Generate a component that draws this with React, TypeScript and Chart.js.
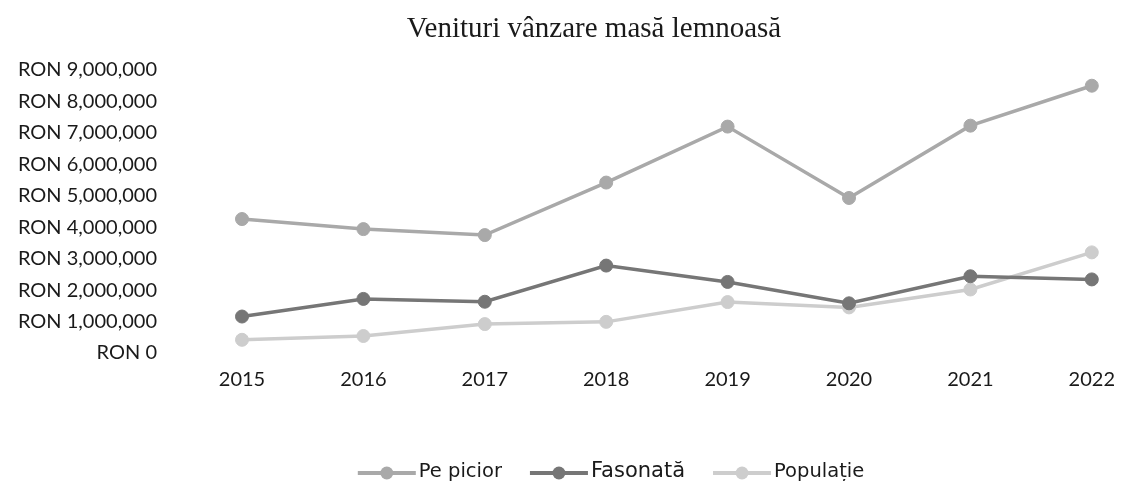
import { useEffect, useRef } from "react";
import { Chart, registerables } from "chart.js";

Chart.register(...registerables);

const years = ["2015", "2016", "2017", "2018", "2019", "2020", "2021", "2022"];
const pePicior = [4260000, 3940000, 3750000, 5420000, 7200000, 4930000, 7230000, 8500000];
const fasonata = [1160000, 1720000, 1630000, 2780000, 2260000, 1580000, 2440000, 2340000];
const populatie = [420000, 540000, 920000, 990000, 1620000, 1450000, 2020000, 3200000];
const seriesNames = ["Pe picior", "Fasonată", "Populație"];
const seriesColors = ["#a9a9a9", "#767676", "#cdcdcd"];
const legendFontSizes = [19.5, 21, 19.5];
const chartTitle = "Venituri vânzare masă lemnoasă";
const yMin = 0;
const yMax = 9000000;
const yStep = 1000000;

const titlePlugin = {
  id: "customTitle",
  afterDraw(chart: any) {
    const ctx = chart.ctx;
    ctx.save();
    ctx.font = '29px "Liberation Serif", "Times New Roman", serif';
    ctx.fillStyle = "#1a1a1a";
    ctx.textAlign = "center";
    ctx.textBaseline = "alphabetic";
    ctx.fillText(chartTitle, 594, 37);
    ctx.restore();
  },
};

const legendPlugin = {
  id: "customLegend",
  afterDraw(chart: any) {
    const ctx = chart.ctx;
    const iconW = 58;
    const gapIconText = 3;
    const gapItems = 28;
    const centerX = 611;
    const y = 472;
    ctx.save();
    const widths = chart.data.datasets.map((ds: any, i: number) => {
      ctx.font = `${legendFontSizes[i]}px "DejaVu Sans", sans-serif`;
      return iconW + gapIconText + ctx.measureText(ds.label).width;
    });
    const total = widths.reduce((a: number, b: number) => a + b, 0) + gapItems * (widths.length - 1);
    let x = centerX - total / 2;
    chart.data.datasets.forEach((ds: any, i: number) => {
      ctx.strokeStyle = ds.borderColor;
      ctx.lineWidth = 4;
      ctx.beginPath();
      ctx.moveTo(x, y + 1);
      ctx.lineTo(x + iconW, y + 1);
      ctx.stroke();
      ctx.fillStyle = ds.backgroundColor;
      ctx.beginPath();
      ctx.arc(x + iconW / 2, y + 1, 6.5, 0, Math.PI * 2);
      ctx.fill();
      ctx.font = `${legendFontSizes[i]}px "DejaVu Sans", sans-serif`;
      ctx.fillStyle = "#1a1a1a";
      ctx.textAlign = "left";
      ctx.textBaseline = "middle";
      ctx.fillText(ds.label, x + iconW + gapIconText, y);
      x += widths[i] + gapItems;
    });
    ctx.restore();
  },
};

export default function App() {
  const canvasRef = useRef<HTMLCanvasElement | null>(null);

  useEffect(() => {
    const canvas = canvasRef.current;
    if (!canvas) return;
    const seriesValues = [pePicior, fasonata, populatie];
    const chart = new Chart(canvas, {
      type: "line",
      data: {
        labels: years,
        datasets: seriesValues.map((vals, i) => ({
          label: seriesNames[i],
          data: vals,
          borderColor: seriesColors[i],
          backgroundColor: seriesColors[i],
          pointBackgroundColor: seriesColors[i],
          pointBorderColor: seriesColors[i],
          borderWidth: 3.5,
          pointRadius: 6.5,
          pointBorderWidth: 1,
          tension: 0,
          fill: false,
        })),
      },
      options: {
        animation: false,
        responsive: false,
        maintainAspectRatio: false,
        layout: { padding: { top: 70, right: 30, bottom: 0, left: 0 } },
        plugins: {
          legend: { display: false },
          title: { display: false },
          tooltip: { enabled: false },
        },
        scales: {
          x: {
            offset: false,
            grid: { display: false, drawTicks: false },
            border: { display: false },
            ticks: {
              color: "#1a1a1a",
              font: { family: "Lato, sans-serif", size: 20 },
              padding: 15,
              maxRotation: 0,
            },
            afterFit(scale: any) {
              scale.height = 128;
            },
          },
          y: {
            min: yMin,
            max: yMax,
            grid: { display: false, drawTicks: false },
            border: { display: false },
            ticks: {
              stepSize: yStep,
              color: "#1a1a1a",
              font: { family: "Lato, sans-serif", size: 20 },
              padding: 85,
              callback: (v: any) => "RON " + Number(v).toLocaleString("en-US"),
            },
            afterFit(scale: any) {
              scale.width = 242;
              scale.paddingTop = 0;
              scale.paddingBottom = 0;
            },
          },
        },
      },
      plugins: [titlePlugin, legendPlugin],
    });
    return () => chart.destroy();
  }, []);

  return (
    <div style={{ position: "fixed", left: 0, top: 0, width: 1130, height: 481, background: "#fff" }}>
      <canvas ref={canvasRef} width={1130} height={481} style={{ width: 1130, height: 481 }} />
    </div>
  );
}
